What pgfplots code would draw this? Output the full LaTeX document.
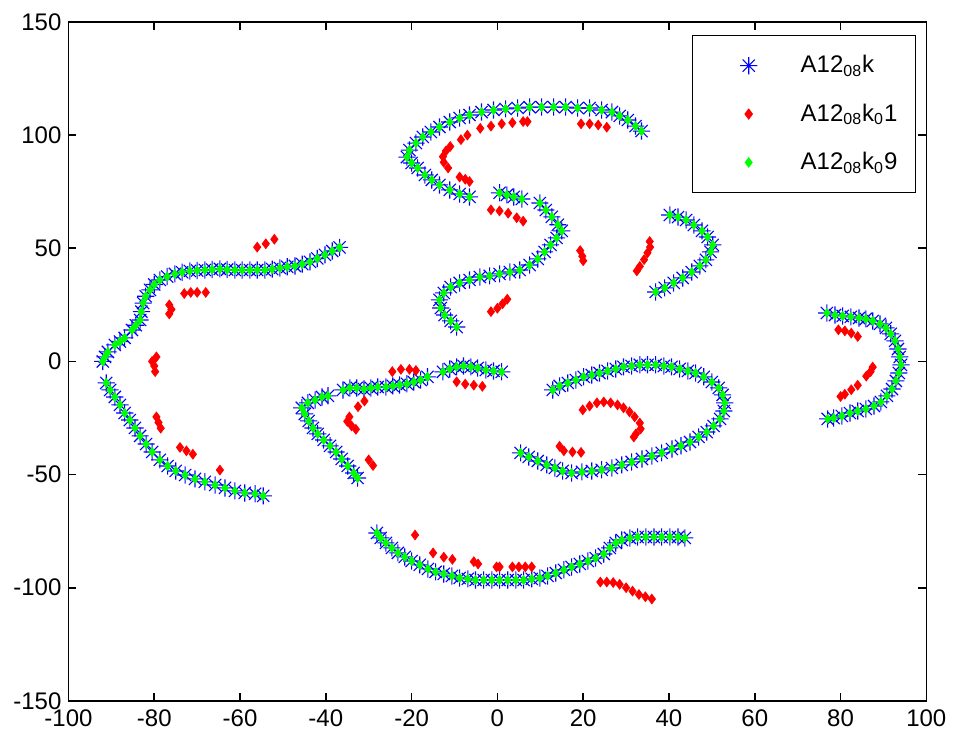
\documentclass[border=0pt]{standalone}
\usepackage{pgfplots}
\usepackage{pgfplotstable}
\pgfplotsset{compat=1.18}
\usepackage{fontspec}
\setmainfont{Liberation Sans}
\pgfdeclareplotmark{mstar}{%
 \pgfpathmoveto{\pgfqpoint{-\pgfplotmarksize}{0pt}}\pgfpathlineto{\pgfqpoint{\pgfplotmarksize}{0pt}}%
 \pgfpathmoveto{\pgfqpoint{0pt}{-\pgfplotmarksize}}\pgfpathlineto{\pgfqpoint{0pt}{\pgfplotmarksize}}%
 \pgfpathmoveto{\pgfqpoint{-.707\pgfplotmarksize}{-.707\pgfplotmarksize}}\pgfpathlineto{\pgfqpoint{.707\pgfplotmarksize}{.707\pgfplotmarksize}}%
 \pgfpathmoveto{\pgfqpoint{-.707\pgfplotmarksize}{.707\pgfplotmarksize}}\pgfpathlineto{\pgfqpoint{.707\pgfplotmarksize}{-.707\pgfplotmarksize}}%
 \pgfusepathqstroke}
\definecolor{mblue}{RGB}{0,0,255}
\definecolor{mred}{RGB}{255,0,0}
\definecolor{mgreen}{RGB}{0,255,0}

% curve points (shared by A12_08k and A12_08k_09)
\pgfplotstableread{
x y
-36.8 50.4
-38.5 48.8
-40.2 47.1
-42.0 45.5
-43.7 44.0
-45.5 43.0
-47.2 42.2
-49.0 41.8
-50.7 41.3
-52.5 40.8
-54.2 40.4
-56.0 40.4
-57.7 40.4
-59.5 40.4
-61.2 40.4
-63.0 40.6
-64.7 40.9
-66.5 40.6
-68.2 40.4
-70.0 40.2
-71.7 40.0
-73.5 39.4
-75.2 38.7
-77.0 37.5
-78.7 36.0
-80.0 34.0
-81.0 31.6
-82.0 28.8
-82.6 25.8
-83.0 22.0
-83.3 18.3
-84.3 16.0
-85.2 13.9
-86.9 10.4
-88.0 8.8
-89.2 7.3
-90.8 4.2
-91.5 2.0
-92.0 0.0
-91.2 -9.5
-90.3 -12.6
-89.2 -15.7
-88.0 -19.2
-86.9 -22.8
-85.7 -25.9
-84.5 -29.4
-83.3 -32.9
-81.9 -36.5
-80.5 -40.0
-78.7 -43.5
-76.9 -46.2
-75.0 -48.4
-72.8 -50.2
-70.5 -51.9
-68.2 -53.2
-65.8 -54.6
-63.5 -55.9
-61.2 -57.2
-58.9 -58.1
-56.5 -58.5
-54.6 -59.4
-6.5 72.7
-8.8 74.0
-11.1 75.8
-13.5 78.0
-15.3 80.2
-16.9 82.4
-18.6 85.5
-20.0 87.7
-21.1 90.3
-20.5 93.4
-19.0 96.5
-17.4 99.2
-15.5 101.4
-13.5 103.6
-11.1 105.8
-8.8 107.6
-6.5 108.9
-3.7 110.2
-0.9 111.1
1.9 111.6
4.7 112.0
7.5 112.4
10.3 112.4
13.1 112.4
15.9 112.4
18.7 112.0
21.5 112.0
24.3 111.1
26.7 110.2
28.5 108.5
30.4 106.7
32.2 104.0
33.6 101.8
0.5 74.5
2.2 73.6
3.8 72.7
5.7 71.8
9.9 70.0
11.3 66.9
12.7 63.9
14.1 60.4
15.0 57.7
13.8 54.6
12.4 51.5
11.0 48.4
9.4 45.3
7.5 42.6
5.2 40.4
2.9 39.5
0.5 38.7
-1.8 37.8
-4.1 37.3
-6.5 36.0
-8.8 34.7
-10.9 32.9
-12.5 30.3
-13.5 27.2
-13.2 23.6
-12.3 20.5
-10.9 17.9
-9.5 15.2
40.2 64.7
42.1 63.8
44.0 62.5
45.8 60.3
47.7 57.7
49.0 55.0
50.2 51.5
49.7 48.4
48.6 44.9
47.2 42.2
45.3 39.5
43.2 36.9
41.1 34.7
39.0 32.5
36.9 30.7
-45.6 -20.5
-44.2 -18.3
-42.5 -17.0
-40.9 -15.7
-39.5 -15.2
-36.0 -12.6
-34.4 -11.7
-32.8 -11.7
-31.1 -12.2
-29.5 -11.7
-27.9 -11.3
-26.0 -11.3
-24.4 -10.8
-22.8 -10.4
-21.1 -9.9
-19.5 -9.1
-17.9 -8.2
-16.3 -6.8
-12.7 -4.6
-11.1 -3.3
-9.5 -2.4
-7.9 -2.0
-6.2 -2.4
-4.6 -2.9
-2.7 -3.8
-0.9 -4.2
1.0 -4.6
-44.9 -23.2
-44.0 -26.3
-43.0 -29.4
-41.9 -32.0
-40.5 -34.7
-39.0 -37.3
-37.6 -40.0
-36.3 -43.1
-34.9 -46.2
-33.5 -49.3
-32.6 -51.5
12.9 -12.6
14.5 -10.8
16.4 -9.5
18.3 -8.2
20.1 -6.8
22.0 -6.0
23.8 -5.1
25.7 -4.2
27.6 -3.3
29.4 -2.4
31.3 -2.0
33.2 -1.5
35.0 -1.5
36.9 -1.5
38.8 -2.0
40.6 -2.4
42.5 -3.3
44.4 -4.2
46.2 -5.1
48.1 -6.8
50.0 -9.1
51.6 -11.7
52.5 -14.8
53.0 -18.3
52.8 -21.9
51.9 -25.4
50.4 -28.5
48.8 -31.2
46.9 -33.4
44.9 -35.6
42.8 -37.3
40.7 -38.7
38.3 -40.4
36.0 -41.8
33.7 -43.1
31.3 -44.4
29.0 -45.7
26.7 -47.1
24.3 -47.9
22.0 -48.4
19.7 -48.8
17.3 -49.3
15.2 -48.4
13.4 -47.1
11.5 -45.7
9.4 -44.0
7.3 -42.2
5.4 -40.4
76.8 21.4
78.7 20.5
80.5 20.1
82.4 19.7
84.3 19.2
85.9 18.8
87.5 17.9
89.2 16.6
90.6 14.8
91.7 12.2
92.7 9.1
93.4 5.5
93.8 2.0
94.1 -1.5
93.6 -5.1
92.9 -8.6
92.0 -12.2
90.8 -15.2
89.4 -17.9
87.8 -19.7
85.9 -21.0
84.0 -21.9
82.2 -22.8
80.3 -24.1
78.4 -25.0
77.0 -25.4
-28.1 -75.8
-27.2 -78.0
-26.0 -80.2
-24.6 -82.4
-23.2 -84.6
-21.6 -86.4
-20.0 -88.2
-18.1 -89.9
-16.2 -91.7
-14.4 -93.0
-12.5 -93.9
-10.6 -94.8
-8.8 -95.7
-6.9 -96.1
-5.1 -96.6
-3.2 -96.6
-1.3 -96.6
0.5 -96.6
2.4 -96.6
4.3 -96.6
6.1 -96.6
8.0 -96.1
9.9 -95.7
11.7 -94.8
13.6 -93.5
15.5 -92.1
17.3 -90.8
19.2 -89.5
21.1 -88.2
22.9 -86.9
24.8 -85.1
26.2 -82.4
27.6 -80.2
29.0 -78.9
30.9 -78.0
32.7 -77.6
34.6 -77.6
36.5 -77.6
38.3 -77.6
40.2 -77.6
42.1 -77.6
43.7 -78.0
}\curves

% A12_08k_01 points
\pgfplotstableread{
x y
-56 50.5
-54 52
-52 54
-73 30
-71.5 30.5
-70 30.5
-68 30.5
-76.5 25
-76 23
-76.5 21
-79.5 2
-80.5 0
-80 -2
-79.8 -4.5
-79.5 -24.5
-79 -27
-78.5 -29.5
-74 -38
-72.5 -39.5
-71 -41
-64.7 -48
-4 103
-1.5 104
1 105
3.5 105.5
6 106
7 106
-8.5 98
-7 100
19.5 105
21.5 105
23.5 104.5
25.5 103.5
-11 95
-12 93
-12.7 90.5
-12.5 88
-11.5 85.5
-8.8 81.5
-7.5 80.5
-6.5 79.5
-1.5 67
0.5 66.5
2.5 65.5
4.5 63.5
6 62
19.3 49
19.8 46.5
20 44.5
-1.5 22
0 23.5
1.2 25.5
2.3 27.5
35.5 53
35.6 50.5
35 48
34.2 45
33.2 42
32.5 40
-24.5 -4.5
-22.5 -3.5
-20.5 -3.5
-19 -4
-9.5 -9
-7.5 -10
-5.5 -10.5
-3.5 -11
-31 -17.5
-32.5 -20
-34.5 -24.5
-35 -26.5
-34 -28.5
-33 -30
-30 -43.5
-29 -46
19.9 -21.4
21.5 -19.7
23.2 -18.3
24.8 -17.9
26.4 -18.3
28 -19.2
29.4 -20.5
30.8 -22.3
32 -24.5
33.2 -27.2
33.4 -29.8
32.3 -32
31.8 -33.4
14.5 -37.5
15.5 -39.5
17.5 -40
19.5 -40.2
79.5 14
81 13.5
82.5 12.5
84 11
87.5 -2.5
87 -4.5
86 -6.5
84 -10.5
82.5 -12.5
81 -14.5
80 -15.5
-19.2 -76.7
-15 -84.6
-12.5 -86.5
-10.5 -87.5
-5.5 -88.5
-4.5 -89.5
-0.2 -90.8
0.5 -90.8
3.5 -90.8
5 -90.8
6.5 -90.8
8 -90.8
24 -97.5
25.5 -97.5
27 -97.7
28.5 -98.5
30 -100
31.5 -101.5
33 -103
34.5 -104
36 -105
}\redpts

\begin{document}
\begin{tikzpicture}
\pgfplotsset{myleg/.style={legend image code/.code={%
  \path[draw=none,fill=none,draw opacity=0,fill opacity=0] (0pt,-4pt) rectangle (45pt,4pt);
  \draw[##1] plot coordinates {(24pt,0pt)};}}}
\begin{axis}[
  scale only axis,
  width=429pt, height=339.5pt,
  xmin=-100, xmax=100, ymin=-150, ymax=150,
  xtick={-100,-80,...,100},
  ytick={-150,-100,...,150},
  tick align=inside,
  major tick length=4pt,
  axis line style={line width=0.8pt},
  every tick/.style={line width=0.8pt, black},
  tick label style={font=\fontsize{12}{14}\selectfont},
  xticklabel style={yshift=-1pt},
  /pgf/number format/assume math mode=true,
  legend style={at={(0.988,0.981)}, anchor=north east,
    draw=black, line width=0.6pt, inner xsep=4pt, inner ysep=8pt,
    row sep=10pt, font=\fontsize{12}{14}\selectfont,
    nodes={inner xsep=5pt},
    cells={anchor=west}},
]
\addplot[only marks, mark=mstar, mark size=4.3pt, color=mblue, line width=0.55pt, myleg] table[x=x,y=y] {\curves};
\addlegendentry{A12$_{\mathrm{08}}$k}
\addplot[only marks, mark=diamond*, mark size=2.4pt, color=mred, myleg] table[x=x,y=y] {\redpts};
\addlegendentry{A12$_{\mathrm{08}}$k$_{\mathrm{0}}$1}
\addplot[only marks, mark=diamond*, mark size=2.2pt, color=mgreen, myleg] table[x=x,y=y] {\curves};
\addlegendentry{A12$_{\mathrm{08}}$k$_{\mathrm{0}}$9}
\end{axis}
\path ([xshift=-34.25pt,yshift=-19pt]current axis.south west) rectangle ([xshift=13pt,yshift=11pt]current axis.north east);
\end{tikzpicture}
\end{document}
